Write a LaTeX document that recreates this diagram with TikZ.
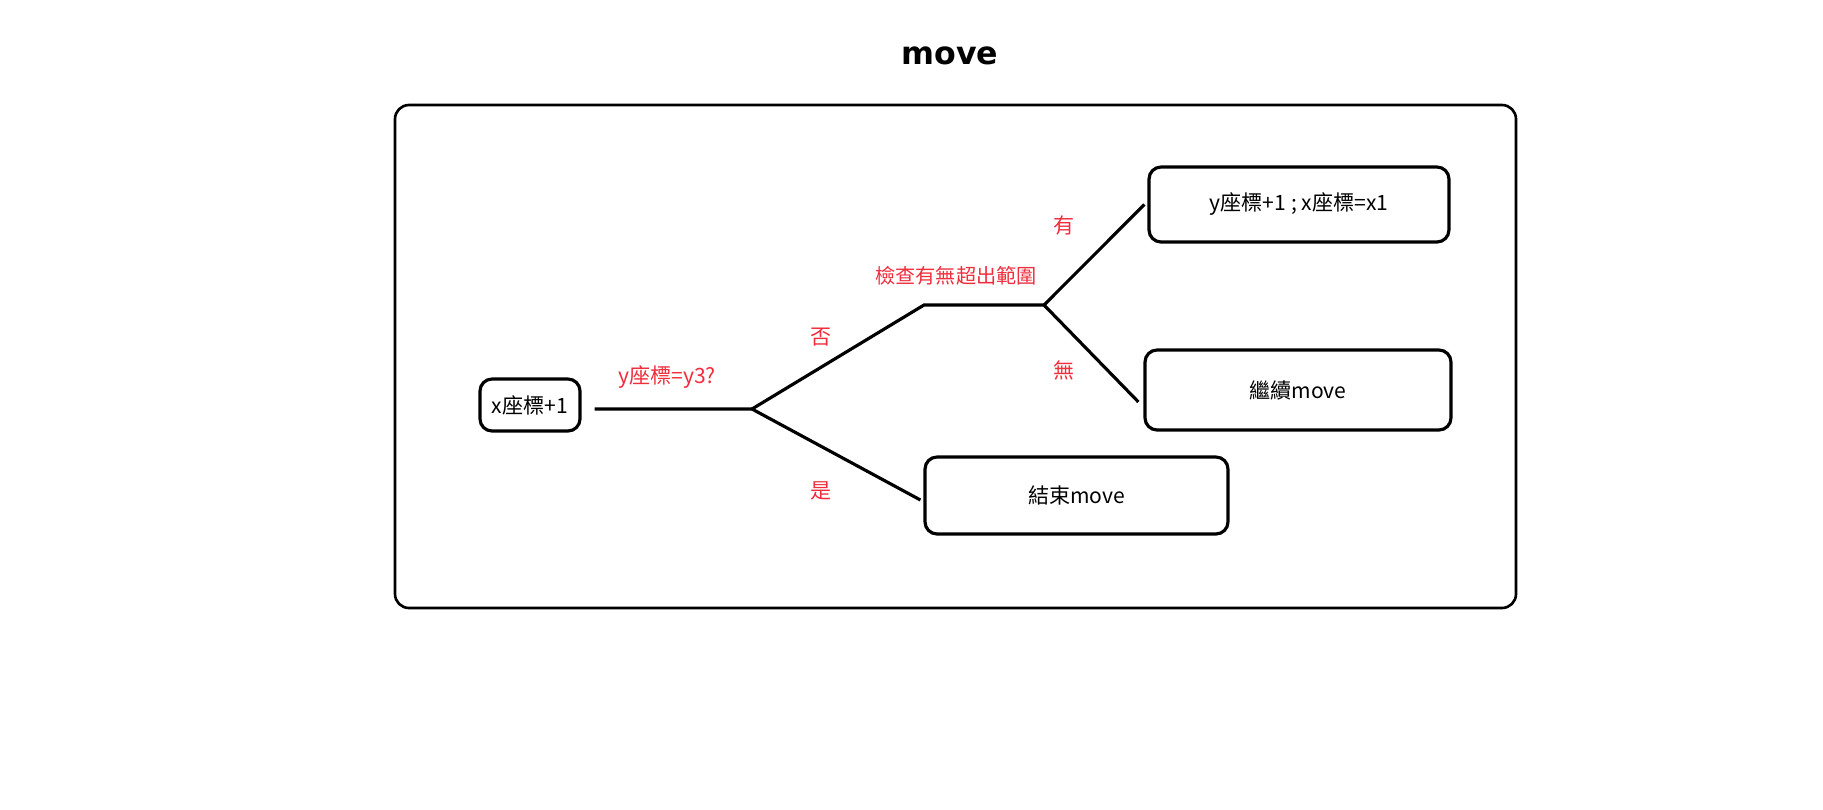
\documentclass[tikz,border=0pt]{standalone}
\usepackage{fontspec}
\setmainfont{Noto Sans CJK TC}
\newfontfamily\titlefont{DejaVu Sans}
\definecolor{labelred}{RGB}{240,45,60}

\begin{document}
\begin{tikzpicture}[x=0.02cm, y=-0.02cm,
    every node/.style={font=\fontsize{12}{14}\selectfont},
    box/.style={draw, rounded corners=0.24cm, line width=1.8pt, inner sep=0pt},
    branch/.style={line width=1.8pt},
    cond/.style={text=labelred}]
  \useasboundingbox (0,0) rectangle (1823,809);
  \node[font=\titlefont\bfseries\fontsize{18}{22}\selectfont] (title) at (950,56) {move};
  \draw[rounded corners=0.28cm, line width=1.5pt] (395,105) rectangle (1516,608);

  \node[box, minimum width=2cm, minimum height=1.04cm] (xplus) at (530,405) {x座標+1};
  \node[box, minimum width=6cm, minimum height=1.5cm] (yplus) at (1299,204.5) {y座標+1 ; x座標=x1};
  \node[box, minimum width=6.12cm, minimum height=1.6cm] (cont) at (1298,390) {繼續move};
  \node[box, minimum width=6.06cm, minimum height=1.54cm] (stop) at (1076.5,495.5) {結束move};

  \coordinate (q1) at (752,409);
  \coordinate (q2a) at (924,305);
  \coordinate (q2) at (1044,305);

  \draw[branch] ([shift={(0.26cm,-0.08cm)}]xplus.east) -- (q1);
  \draw[branch] (q1) -- (q2a) -- (q2);
  \draw[branch] (q1) -- ([shift={(-0.06cm,-0.09cm)}]stop.west);
  \draw[branch] (q2) -- ([xshift=-0.06cm]yplus.west);
  \draw[branch] (q2) -- ([shift={(-0.1cm,-0.24cm)}]cont.west);

  \node[cond] (ask1) at (667,377) {y座標=y3?};
  \node[cond, font=\fontsize{11.5}{14}\selectfont] (ask2) at (956,276) {檢查有無超出範圍};
  \node[cond] (no) at (821,337) {否};
  \node[cond] (yes) at (821,491) {是};
  \node[cond] (have) at (1064,226) {有};
  \node[cond] (none) at (1064,370) {無};
\end{tikzpicture}
\end{document}
